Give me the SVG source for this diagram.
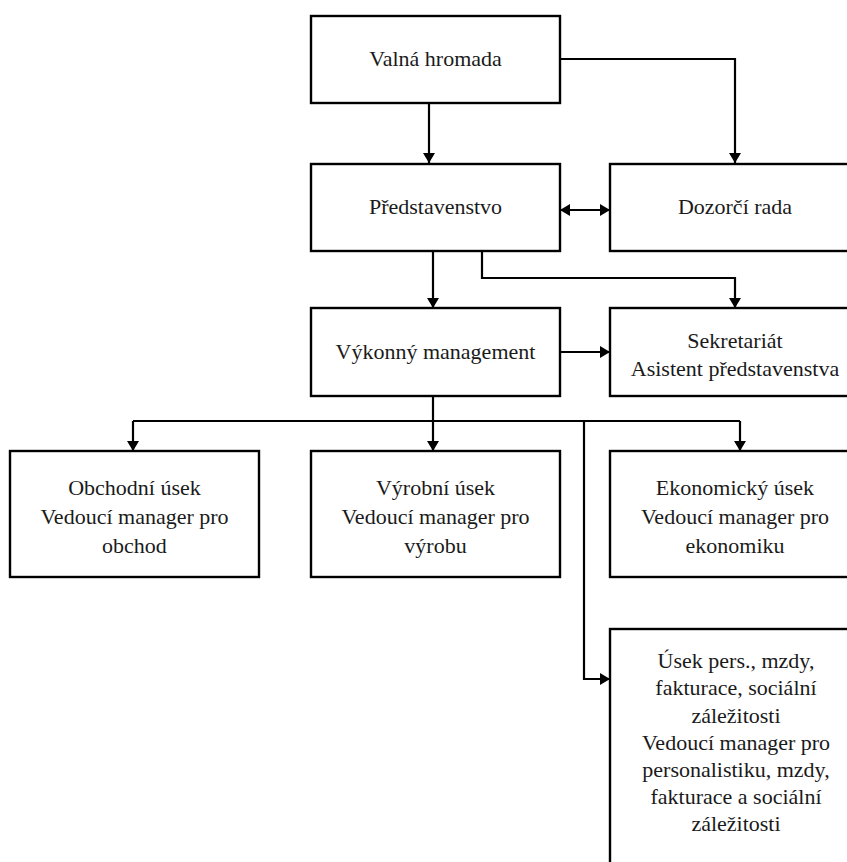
<svg xmlns="http://www.w3.org/2000/svg" width="847" height="862" viewBox="0 0 847 862">
<style>
  .box { fill: #fff; stroke: #000; stroke-width: 2.4; }
  .t { font-family: "Liberation Serif", "Times New Roman", serif; font-size: 22px; fill: #1a1a1a; text-anchor: middle; }
  .c { fill: none; stroke: #000; stroke-width: 2.2; }
</style>
<defs>
  <marker id="ah" markerUnits="userSpaceOnUse" markerWidth="10" markerHeight="12" refX="10" refY="6" orient="auto-start-reverse" viewBox="0 0 10 12">
    <path d="M0,0 L10,6 L0,12 z" fill="#000"/>
  </marker>
</defs>
<rect width="847" height="862" fill="#fff"/>
<g id="connectors">
  <path class="c" d="M429,103 V163" marker-end="url(#ah)"/>
  <path class="c" d="M560,59 H735 V163" marker-end="url(#ah)"/>
  <path class="c" d="M560,210 H610" marker-start="url(#ah)" marker-end="url(#ah)"/>
  <path class="c" d="M433,251 V308" marker-end="url(#ah)"/>
  <path class="c" d="M482,251 V278 H735 V308" marker-end="url(#ah)"/>
  <path class="c" d="M560,352 H610" marker-end="url(#ah)"/>
  <path class="c" d="M433,396 V421"/>
  <path class="c" d="M133,421 H740"/>
  <path class="c" d="M133,421 V451" marker-end="url(#ah)"/>
  <path class="c" d="M433,421 V451" marker-end="url(#ah)"/>
  <path class="c" d="M740,421 V451" marker-end="url(#ah)"/>
  <path class="c" d="M584,421 V679 H610" marker-end="url(#ah)"/>
</g>
<g id="valna-hromada">
  <rect class="box" x="311" y="16" width="249" height="87"/>
  <text class="t" x="435.5" y="66">Valná hromada</text>
</g>
<g id="predstavenstvo">
  <rect class="box" x="311" y="164" width="249" height="87"/>
  <text class="t" x="435.5" y="214">Představenstvo</text>
</g>
<g id="dozorci-rada">
  <rect class="box" x="610" y="164" width="250" height="87"/>
  <text class="t" x="735" y="214">Dozorčí rada</text>
</g>
<g id="vykonny-management">
  <rect class="box" x="311" y="308" width="249" height="88"/>
  <text class="t" x="435.5" y="359">Výkonný management</text>
</g>
<g id="sekretariat">
  <rect class="box" x="610" y="308" width="250" height="88"/>
  <text class="t" x="735" y="348">Sekretariát</text>
  <text class="t" x="735" y="376">Asistent představenstva</text>
</g>
<g id="obchodni-usek">
  <rect class="box" x="10" y="451" width="249" height="126"/>
  <text class="t" x="134.5" y="495">Obchodní úsek</text>
  <text class="t" x="134.5" y="524">Vedoucí manager pro</text>
  <text class="t" x="134.5" y="553">obchod</text>
</g>
<g id="vyrobni-usek">
  <rect class="box" x="311" y="451" width="249" height="126"/>
  <text class="t" x="435.5" y="495">Výrobní úsek</text>
  <text class="t" x="435.5" y="524">Vedoucí manager pro</text>
  <text class="t" x="435.5" y="553">výrobu</text>
</g>
<g id="ekonomicky-usek">
  <rect class="box" x="610" y="451" width="250" height="126"/>
  <text class="t" x="735" y="495">Ekonomický úsek</text>
  <text class="t" x="735" y="524">Vedoucí manager pro</text>
  <text class="t" x="735" y="553">ekonomiku</text>
</g>
<g id="usek-pers">
  <rect class="box" x="610" y="629" width="250" height="260"/>
  <text class="t" x="736" y="668">Úsek pers., mzdy,</text>
  <text class="t" x="736" y="695">fakturace, sociální</text>
  <text class="t" x="736" y="723">záležitosti</text>
  <text class="t" x="736" y="750">Vedoucí manager pro</text>
  <text class="t" x="736" y="777">personalistiku, mzdy,</text>
  <text class="t" x="736" y="804">fakturace a sociální</text>
  <text class="t" x="736" y="831">záležitosti</text>
</g>
</svg>
